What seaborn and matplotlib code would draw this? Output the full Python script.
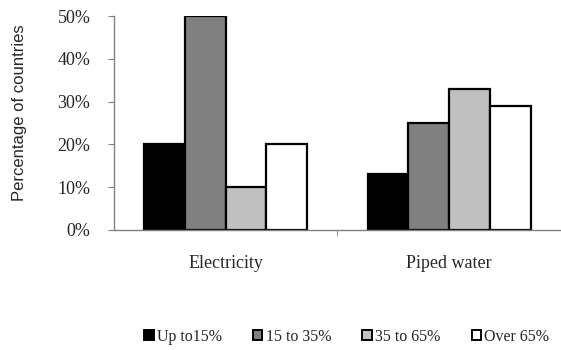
import matplotlib
matplotlib.use("Agg")
import matplotlib.pyplot as plt
import seaborn as sns
import pandas as pd
from matplotlib.ticker import FuncFormatter, FixedLocator
from matplotlib.patches import Patch

categories = ["Electricity", "Piped water"]
series = ["Up to15%", "15 to 35%", "35 to 65%", "Over 65%"]
electricity = [20, 50, 10, 20]
piped_water = [13, 25, 33, 29]
colors = ["#000000", "#808080", "#c0c0c0", "#ffffff"]

rows = []
for cat, vals in zip(categories, [electricity, piped_water]):
    for s, v in zip(series, vals):
        rows.append({"cat": cat, "series": s, "value": v})
df = pd.DataFrame(rows)

sns.set_style("white")
plt.rcParams["font.family"] = ["Liberation Serif", "DejaVu Serif"]

fig = plt.figure(figsize=(5.61, 3.5), dpi=100)
ax = fig.add_axes([0.203, 0.343, 0.797, 0.611])

sns.barplot(data=df, x="cat", y="value", hue="series", hue_order=series,
            palette=colors, edgecolor="black", linewidth=1.6, width=0.73,
            gap=0, saturation=1, ax=ax, legend=False)

ax.set_xlim(-0.5, 1.5)
ax.set_ylim(0, 50)
ax.set_yticks([0, 10, 20, 30, 40, 50])
ax.yaxis.set_major_formatter(FuncFormatter(lambda v, p: f"{int(v)}%"))
ax.tick_params(axis="y", length=4, direction="out", color="#808080",
               labelsize=13, pad=13, left=True)
ax.tick_params(axis="x", length=0, labelsize=13, pad=18)
ax.xaxis.set_minor_locator(FixedLocator([0.5]))
ax.tick_params(axis="x", which="minor", length=4, direction="out",
               color="#808080", bottom=True)
ax.set_xlabel("")
ax.set_ylabel("Percentage of countries", family=["Liberation Sans"],
              fontsize=12)
ax.yaxis.set_label_coords(-0.195, 0.55)
for s in ["top", "right"]:
    ax.spines[s].set_visible(False)
for s in ["left", "bottom"]:
    ax.spines[s].set_color("#808080")
    ax.spines[s].set_linewidth(1.0)

handles = [Patch(facecolor=c, edgecolor="black", linewidth=1.4) for c in colors]
fig.legend(handles, series, loc="center", bbox_to_anchor=(0.618, 0.037),
           ncol=4, frameon=False, fontsize=11.5, handlelength=0.6,
           handleheight=0.6, handletextpad=0.2, columnspacing=1.95)

fig.savefig("out.png", dpi=100)
